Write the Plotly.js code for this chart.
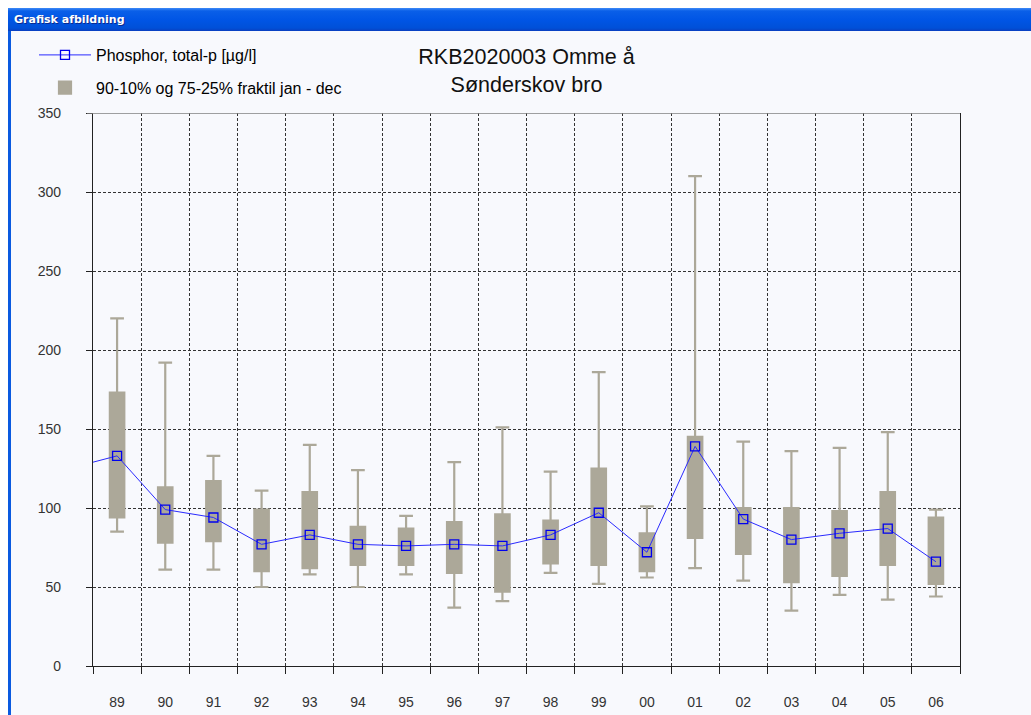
<!DOCTYPE html>
<html>
<head>
<meta charset="utf-8">
<script src="https://cdn.plot.ly/plotly-3.0.1.min.js"></script>
<style>
  html, body { margin: 0; padding: 0; background: #ffffff; }
  #wrap { position: relative; width: 1031px; height: 715px; overflow: hidden; background: #f8f9fd; }
  #chart { position: absolute; left: 0; top: 0; width: 1031px; height: 715px; }
  #topwhite { position: absolute; left: 0; top: 0; width: 1031px; height: 8px; background: #ffffff; }
  #leftwhite { position: absolute; left: 0; top: 0; width: 8px; height: 715px; background: #ffffff; }
  #titlebar { position: absolute; left: 8px; top: 8px; width: 1023px; height: 23px;
    background: linear-gradient(to bottom, #3d8af7 0px, #0a5fe8 3px, #0055e5 12px, #0050d8 20px, #0a3fc0 23px);
    color: #ffffff; font-family: "DejaVu Sans", Tahoma, sans-serif; font-weight: bold; font-size: 11px;
    line-height: 23px; padding-left: 6px; box-sizing: border-box; text-shadow: 1px 1px 0 #0a2a90; }
  #leftborder { position: absolute; left: 8px; top: 8px; width: 3px; height: 707px; background: #0a5ae0; }
</style>
</head>
<body>
<div id="wrap">
  <div id="chart"></div>
  <div id="topwhite"></div>
  <div id="leftwhite"></div>
  <div id="leftborder"></div>
  <div id="titlebar">Grafisk afbildning</div>
</div>
<script>
// Year labels shown on the x axis
const years = ['89','90','91','92','93','94','95','96','97','98','99','00','01','02','03','04','05','06'];
// The line continues in from the previous year (88), which lies outside the visible range
const lineYears = ['88','89','90','91','92','93','94','95','96','97','98','99','00','01','02','03','04','05','06'];
// Phosphor, total-p [µg/l] (annual values)
const phosphor = [125, 133, 99, 94, 77, 83, 77, 76, 77, 76, 83, 97, 72, 139, 93, 80, 84, 87, 66];
// Fractiles
const p90 = [220, 192, 133, 111, 140, 124, 95, 129, 151, 123, 186, 101, 310, 142, 136, 138, 148, 99];
const p75 = [173, 113, 117, 99, 110, 88, 87, 91, 96, 92, 125, 84, 145, 100, 100, 98, 110, 94];
const p25 = [94, 78, 79, 60, 62, 64, 64, 59, 47, 65, 64, 60, 81, 71, 53, 57, 64, 52];
const p10 = [85, 61, 61, 50, 58, 50, 58, 37, 41, 59, 52, 56, 62, 54, 35, 45, 42, 44];

const boxX = years.map((y, i) => i);
const lineX = lineYears.map((y, i) => i - 1);

const boxColor = '#aca899';

const traces = [
  {
    type: 'scatter', mode: 'lines+markers',
    name: 'Phosphor, total-p [µg/l]',
    x: lineX, y: phosphor,
    line: { color: '#2a2aff', width: 1 },
    marker: { symbol: 'square-open', size: 9, color: '#0000ee', line: { width: 1.3, color: '#0000ee' } },
    hoverinfo: 'skip', legendrank: 1, legendgroup: 'a'
  },
  {
    type: 'box',
    name: '90-10% og 75-25% fraktil jan - dec',
    x: boxX, q1: p25, q3: p75, median: phosphor.slice(1),
    lowerfence: p10, upperfence: p90,
    width: 0.3, whiskerwidth: 0.95,
    fillcolor: boxColor, line: { color: boxColor, width: 2.2 },
    boxpoints: false, hoverinfo: 'skip', legendrank: 2, legendgroup: 'b'
  }
];
// draw the line above the boxes
const ordered = [traces[1], traces[0]];

const axisFont = { family: 'Liberation Sans, Arial, sans-serif', size: 14, color: '#333333' };

const layout = {
  width: 1031, height: 715,
  paper_bgcolor: 'rgba(0,0,0,0)', plot_bgcolor: '#f8f9fd',
  margin: { l: 93, r: 71, t: 113, b: 49, autoexpand: false },
  font: { family: 'Liberation Sans, Arial, sans-serif', color: '#000' },
  title: {
    text: 'RKB2020003 Omme å<br>Sønderskov bro',
    font: { family: 'Liberation Sans, Arial, sans-serif', size: 21.5, color: '#111' },
    x: 0.5, xref: 'paper', y: 1 - 64 / 715, yref: 'container', yanchor: 'top'
  },
  showlegend: true,
  legend: {
    x: 34 / 1031, xref: 'container', y: 1 - 38 / 715, yref: 'container', yanchor: 'top', xanchor: 'left',
    bgcolor: 'rgba(0,0,0,0)', traceorder: 'grouped', tracegroupgap: 9,
    font: { family: 'Liberation Sans, Arial, sans-serif', size: 16, color: '#000' },
    itemwidth: 52
  },
  xaxis: {
    range: [-0.5, 17.5], tickmode: 'array', tickvals: boxX, ticktext: years,
    ticks: '', showgrid: false, zeroline: false,
    showline: true, linecolor: '#222', linewidth: 1.2,
    tickfont: axisFont, ticklabelstandoff: 23,
    minor: { tick0: -0.5, dtick: 1, ticks: 'outside', ticklen: 7, tickcolor: '#222', tickwidth: 1,
             showgrid: true, gridcolor: '#333', griddash: '3px,2px', gridwidth: 1 },
    fixedrange: true
  },
  yaxis: {
    range: [0, 350], dtick: 50, tick0: 0,
    ticks: 'outside', ticklen: 6, tickcolor: '#222',
    showgrid: true, gridcolor: '#333', griddash: '3px,2px', gridwidth: 1,
    zeroline: false, showline: true, mirror: true, linecolor: '#222', linewidth: 1.2,
    tickfont: axisFont, ticklabelstandoff: 22, fixedrange: true
  },
  shapes: [
    { type: 'line', xref: 'paper', yref: 'y', x0: -0.007, x1: 1, y0: 350, y1: 350,
      line: { color: '#808080', width: 1.5 } }
  ]
};

Plotly.newPlot('chart', ordered, layout, { displayModeBar: false, staticPlot: true });
</script>
</body>
</html>
